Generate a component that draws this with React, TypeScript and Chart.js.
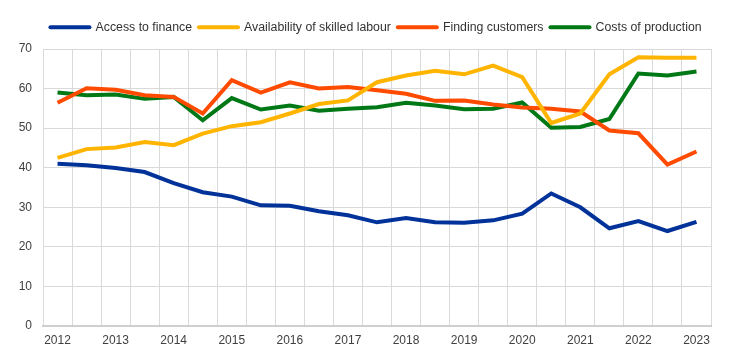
import React, { useEffect, useRef } from "react";
import { Chart, registerables } from "chart.js";

Chart.register(...registerables);

const categories = [
  "2012", "", "2013", "", "2014", "", "2015", "", "2016", "", "2017", "",
  "2018", "", "2019", "", "2020", "", "2021", "", "2022", "", "2023",
];

const accessToFinance = [
  41.0, 40.6, 39.9, 38.9, 36.1, 33.8, 32.7, 30.5, 30.4, 29.0, 28.0, 26.2,
  27.3, 26.2, 26.1, 26.7, 28.4, 33.5, 30.0, 24.7, 26.5, 24.0, 26.3,
];
const skilledLabour = [
  42.5, 44.7, 45.1, 46.5, 45.7, 48.6, 50.5, 51.5, 53.7, 56.1, 57.0, 61.6,
  63.3, 64.5, 63.6, 65.8, 62.9, 51.3, 53.7, 63.6, 67.9, 67.8, 67.8,
];
const findingCustomers = [
  56.4, 60.1, 59.7, 58.3, 57.9, 53.7, 62.1, 59.0, 61.6, 60.0, 60.4, 59.6,
  58.7, 56.9, 57.0, 56.0, 55.2, 54.9, 54.2, 49.4, 48.7, 40.8, 44.1,
];
const costsOfProduction = [
  59.0, 58.3, 58.5, 57.4, 57.9, 52.0, 57.6, 54.7, 55.7, 54.4, 54.9, 55.3,
  56.4, 55.7, 54.8, 54.9, 56.5, 50.1, 50.3, 52.3, 63.8, 63.3, 64.3,
];

const seriesNames = [
  "Access to finance",
  "Availability of skilled labour",
  "Finding customers",
  "Costs of production",
];
const seriesColors = ["#003299", "#FFB400", "#FF4B00", "#007816"];

const FONT = 'Arial, "Liberation Sans", sans-serif';

const legendHeightPlugin = {
  id: "legendHeight",
  beforeInit(chart: any) {
    const legend = chart.legend;
    if (!legend) return;
    const origFit = legend.fit;
    legend.fit = function () {
      origFit.call(this);
      this.height = 35;
    };
  },
};

export default function App() {
  const canvasRef = useRef<HTMLCanvasElement | null>(null);

  useEffect(() => {
    if (!canvasRef.current) return;
    const values = [accessToFinance, skilledLabour, findingCustomers, costsOfProduction];
    const chart = new Chart(canvasRef.current, {
      type: "line",
      data: {
        labels: categories,
        datasets: values.map((d, i) => ({
          label: seriesNames[i],
          data: d,
          borderColor: seriesColors[i],
          backgroundColor: seriesColors[i],
          borderWidth: 4,
          pointRadius: 0,
          tension: 0,
          fill: false,
          yAxisID: "y",
        })),
      },
      plugins: [legendHeightPlugin],
      options: {
        animation: false,
        responsive: false,
        maintainAspectRatio: false,
        layout: { padding: { left: 8, right: 0, top: 14, bottom: 0 } },
        plugins: {
          tooltip: { enabled: false },
          legend: {
            position: "top",
            labels: {
              usePointStyle: true,
              pointStyleWidth: 39,
              boxHeight: 12,
              padding: 7,
              color: "#333333",
              font: { size: 12.3, family: FONT },
              generateLabels: (c: any) =>
                c.data.datasets.map((ds: any, i: number) => ({
                  text: ds.label,
                  fillStyle: ds.borderColor,
                  strokeStyle: ds.borderColor,
                  lineWidth: 4,
                  lineCap: "round",
                  pointStyle: "line",
                  datasetIndex: i,
                  hidden: false,
                  fontColor: "#333333",
                })),
            },
          },
        },
        scales: {
          x: {
            offset: true,
            grid: { offset: true, color: "#d9d9d9", lineWidth: 1, drawTicks: false },
            border: { display: true, color: "#cfcfcf", width: 2 },
            ticks: {
              autoSkip: false,
              maxRotation: 0,
              padding: 7,
              color: "#404040",
              font: { size: 12, family: FONT },
            },
            afterFit: (s: any) => {
              s.height = 26;
            },
          },
          y: {
            min: 0,
            max: 70,
            grid: { color: "#d9d9d9", lineWidth: 1, drawTicks: false },
            border: { display: false },
            ticks: {
              stepSize: 10,
              padding: 11,
              color: "#404040",
              font: { size: 12, family: FONT },
            },
            afterFit: (s: any) => {
              s.width = 35;
            },
          },
          yRight: {
            position: "right",
            display: true,
            grid: { display: false, drawTicks: false },
            border: { display: false },
            ticks: { display: false },
            afterFit: (s: any) => {
              s.width = 33;
            },
          },
        },
      },
    });
    return () => chart.destroy();
  }, []);

  return (
    <div style={{ position: "fixed", left: 0, top: 0, width: 744, height: 352, background: "#fff" }}>
      <canvas ref={canvasRef} width={744} height={352} />
    </div>
  );
}
